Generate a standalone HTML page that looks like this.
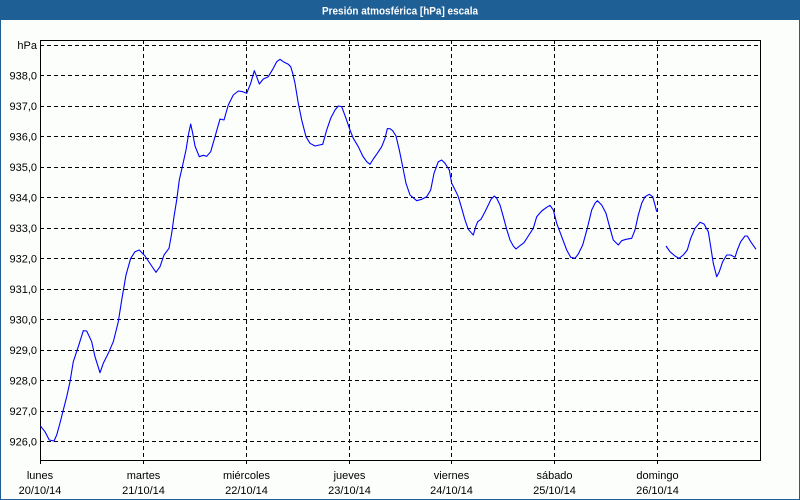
<!DOCTYPE html>
<html><head><meta charset="utf-8"><style>
html,body{margin:0;padding:0;background:#fff;}
svg{display:block;}
text{font-family:"Liberation Sans",sans-serif;font-size:11px;fill:#000;}
</style></head><body>
<svg width="800" height="500" viewBox="0 0 800 500" xmlns="http://www.w3.org/2000/svg">
<rect x="0" y="0" width="800" height="500" fill="#fcfefc"/>
<rect x="0" y="0" width="800" height="20" fill="#1e5f96"/>
<rect x="0.5" y="0.5" width="799" height="499" fill="none" stroke="#1e5f96" stroke-width="1"/>
<text x="400" y="14.5" text-anchor="middle" textLength="156" lengthAdjust="spacingAndGlyphs" style="font-weight:bold;fill:#fff;font-size:11px">Presión atmosférica [hPa] escala</text>
<g stroke="#000" stroke-width="1" stroke-dasharray="4,3" fill="none">
<path d="M40 45.5H760M40 75.5H760M40 106.5H760M40 136.5H760M40 167.5H760M40 197.5H760M40 228.5H760M40 258.5H760M40 289.5H760M40 319.5H760M40 350.5H760M40 380.5H760M40 411.5H760M40 441.5H760"/>
<path d="M143.5 40V464M246.5 40V464M349.5 40V464M451.5 40V464M554.5 40V464M657.5 40V464"/>
</g>
<path d="M40.5 40.5H760.5V460.5H40.5Z" fill="none" stroke="#000" stroke-width="1"/>
<path d="M40.5 460V464" stroke="#000"/>
<g text-anchor="end">
<text x="37" y="49">hPa</text>
<text x="37" y="79.5">938,0</text>
<text x="37" y="110">937,0</text>
<text x="37" y="140.5">936,0</text>
<text x="37" y="171">935,0</text>
<text x="37" y="201.5">934,0</text>
<text x="37" y="232">933,0</text>
<text x="37" y="262.5">932,0</text>
<text x="37" y="293">931,0</text>
<text x="37" y="323.5">930,0</text>
<text x="37" y="354">929,0</text>
<text x="37" y="384.5">928,0</text>
<text x="37" y="415">927,0</text>
<text x="37" y="445.5">926,0</text>
</g>
<g text-anchor="middle">
<text x="40" y="479">lunes</text><text x="40" y="494">20/10/14</text>
<text x="143.5" y="479">martes</text><text x="143.5" y="494">21/10/14</text>
<text x="246.5" y="479">miércoles</text><text x="246.5" y="494">22/10/14</text>
<text x="349.5" y="479">jueves</text><text x="349.5" y="494">23/10/14</text>
<text x="451.5" y="479">viernes</text><text x="451.5" y="494">24/10/14</text>
<text x="554.5" y="479">sábado</text><text x="554.5" y="494">25/10/14</text>
<text x="657.5" y="479">domingo</text><text x="657.5" y="494">26/10/14</text>
</g>
<g fill="none" stroke="#0000ff" stroke-width="1.1" stroke-linejoin="round">
<polyline points="40.5,426 41.7,427.7 45,431.7 49.3,440 54,441 56.7,435 60,423 63.3,410 66.7,396.7 70,381.7 73.3,361.7 78.3,346.7 83.3,330.7 86.7,331 91.7,341.7 95,356.7 100,372.7 103.3,363.3 108.3,353.3 113.3,341.7 118.3,321.7 121.7,300 126,275 130.7,258.3 135,251.7 139.3,250 145,256 151,265 156,272.3 160,266.7 164,255 169,248.3 171.7,233.3 174,216.7 176.7,200 179.3,180 182.7,165 186,150 188.7,133.3 190.7,124 192.7,133.3 195,146 199.3,156.7 203.3,155.3 206.7,156.3 210.7,151.7 215,136.7 220,119 224,120 228.3,105 233.3,95 238.3,91 242.7,91.7 246.7,93.3 250.7,83.3 254.3,70.7 256.7,76.7 259.3,84 263.3,79 268.3,76.7 273.3,68.3 276.7,61.7 280,59.3 283.3,61.7 288.3,64.3 290.7,66.7 292.7,73.3 295,83.3 298.3,103.3 301.7,120 306,136.7 310,143.3 315,146 319.3,145 322.7,144.3 326.7,130 330.7,118.3 335,110 338.3,106 341.7,106.7 346,118.3 350,130 353.3,138.3 358.3,146.7 362.7,156 366.7,161.7 370,164.3 373.3,159 377.3,153.3 381.7,146.7 385,138.3 387.3,128.7 390,128.7 392.7,130.7 396,136 399.3,150 402.7,166.7 406,183.3 410,195 416.7,200.7 421.7,199.3 426.7,196.7 430.7,190 434,173.3 438.3,161.7 441.7,160 445,163.3 449.3,170 451.7,183.3 456,191.7 458.3,196.7 461.7,208.3 465,220 468.3,229.3 471.7,233.3 473.3,235 475.7,226.7 477.7,221.7 481,219.3 485,211.7 488.3,205 491,199.3 494.3,196 496.7,198.3 500,205 503.3,216.7 506.7,229.3 510,240 513.3,246 516,249 520,245.7 524,242.7 528.3,236 533.3,228.3 536.7,216.7 541.7,211 546.7,207.3 550,205.3 553.3,210 556.7,223.3 561.7,236.7 566.7,250 570.7,257.3 575,258.3 578.3,254 582.7,245 587.3,228.3 591.7,210 595,203.3 597.3,200.7 601.7,205 606,213.3 610,228.3 613.3,240 618.3,245 621.7,240.7 626,239.3 631.7,238.3 635,230 638.3,215 641.7,203.3 645,196.7 649.3,194.3 652.7,196.7 655,205 656.7,211.7"/>
<polyline points="666,246 670,251.7 675,256 679,258.3 683.3,255 687.3,250 690.7,238.3 695,228.3 700,222.3 704,224 708.3,231.7 710.7,246.7 713.3,263.3 716.7,276.7 719.3,271.7 722.7,261.7 726.7,255 730.7,255 735,257.3 737.3,250 740.7,241.7 745,236 747.3,236 750.7,241.7 756,249.3"/>
</g>
</svg>
</body></html>
